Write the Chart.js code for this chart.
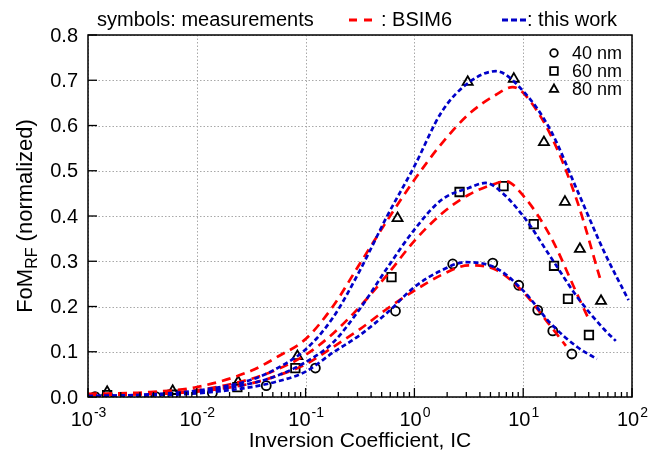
<!DOCTYPE html>
<html>
<head>
<meta charset="utf-8">
<script src="https://cdn.jsdelivr.net/npm/chart.js@4.4.1/dist/chart.umd.min.js"></script>
<style>
  html, body { margin: 0; padding: 0; background: #fff; }
  #wrap { width: 652px; height: 460px; }
</style>
</head>
<body>
<div id="wrap"><canvas id="fomChart" width="652" height="460"></canvas></div>
<script>
// measurements (symbols)
const measX40 = [0.00116, 0.0042, 0.0139, 0.0435, 0.123, 0.67, 2.25, 5.25, 9.1, 13.6, 18.7, 28];
const measY40 = [0.001, 0.001, 0.009, 0.025, 0.064, 0.19, 0.294, 0.296, 0.247, 0.192, 0.146, 0.095];
const measX60 = [0.0015, 0.006, 0.0236, 0.0805, 0.616, 2.6, 6.6, 12.5, 19.2, 25.8, 40.2];
const measY60 = [0.004, 0.005, 0.022, 0.064, 0.265, 0.453, 0.466, 0.382, 0.29, 0.217, 0.137];
const measX80 = [0.0015, 0.006, 0.024, 0.084, 0.70, 3.09, 8.2, 15.5, 24.2, 33.2, 51.9];
const measY80 = [0.011, 0.013, 0.033, 0.09, 0.395, 0.696, 0.703, 0.563, 0.431, 0.327, 0.212];

// BSIM6 (red)
const bsimX40 = [0.001, 0.00316, 0.01, 0.0316, 0.0562, 0.1, 0.178, 0.316, 0.562, 1, 1.78, 3.16, 5.62, 10, 17.8, 24.7];
const bsimY40 = [0.005, 0.006, 0.012, 0.03, 0.048, 0.072, 0.11, 0.15, 0.195, 0.235, 0.27, 0.291, 0.281, 0.232, 0.157, 0.113];
const bsimX60 = [0.001, 0.00316, 0.01, 0.0316, 0.0562, 0.1, 0.178, 0.316, 0.562, 1, 1.78, 3.16, 5.62, 6.9, 10, 17.8, 31.6, 40];
const bsimY60 = [0.005, 0.007, 0.015, 0.04, 0.062, 0.093, 0.14, 0.20, 0.27, 0.345, 0.405, 0.447, 0.472, 0.477, 0.445, 0.355, 0.225, 0.172];
const bsimX80 = [0.001, 0.00316, 0.01, 0.0316, 0.0562, 0.1, 0.178, 0.316, 0.562, 1, 1.78, 3.16, 5.62, 8, 10, 17.8, 31.6, 50.7];
const bsimY80 = [0.007, 0.01, 0.022, 0.058, 0.09, 0.128, 0.2, 0.295, 0.39, 0.48, 0.56, 0.625, 0.668, 0.685, 0.672, 0.58, 0.43, 0.263];

// this work (blue)
const workX40 = [0.001, 0.00316, 0.01, 0.0316, 0.0562, 0.1, 0.178, 0.316, 0.562, 1, 1.78, 2.95, 5.62, 10, 17.8, 31.6, 47.6];
const workY40 = [0.001, 0.003, 0.008, 0.022, 0.035, 0.056, 0.098, 0.137, 0.186, 0.243, 0.28, 0.298, 0.285, 0.235, 0.163, 0.11, 0.084];
const workX60 = [0.001, 0.00316, 0.01, 0.0316, 0.0562, 0.1, 0.178, 0.316, 0.562, 1, 1.78, 3.16, 4.5, 5.62, 10, 17.8, 31.6, 56.2, 71];
const workY60 = [0.002, 0.004, 0.011, 0.03, 0.048, 0.077, 0.12, 0.195, 0.285, 0.37, 0.436, 0.462, 0.473, 0.463, 0.40, 0.31, 0.22, 0.148, 0.124];
const workX80 = [0.001, 0.00316, 0.01, 0.0316, 0.0562, 0.1, 0.178, 0.316, 0.562, 1, 1.78, 3.16, 5.62, 10, 17.8, 31.6, 56.2, 93];
const workY80 = [0.002, 0.005, 0.014, 0.038, 0.065, 0.105, 0.175, 0.28, 0.40, 0.51, 0.63, 0.695, 0.72, 0.676, 0.59, 0.455, 0.318, 0.214];

// axes
const xDecades = [0.001, 0.01, 0.1, 1, 10, 100];
const xExpLabels = ['-3', '-2', '-1', '0', '1', '2'];
const yTicks = [0, 0.1, 0.2, 0.3, 0.4, 0.5, 0.6, 0.7, 0.8];
const sizeLabels = ['40 nm', '60 nm', '80 nm'];

const FONT = '"Liberation Sans", Arial, sans-serif';
const RED = '#ff0000';
const BLUE = '#0000c8';

function pts(xs, ys) {
  return xs.map(function (x, i) { return { x: x, y: ys[i] }; });
}

function curve(xs, ys, color, dash, order) {
  return {
    type: 'line',
    data: pts(xs, ys),
    borderColor: color,
    borderWidth: 2.7,
    borderDash: dash,
    pointRadius: 0,
    fill: false,
    cubicInterpolationMode: 'monotone',
    order: order
  };
}

function marks(xs, ys, style, r) {
  return {
    type: 'scatter',
    data: pts(xs, ys),
    pointStyle: style,
    pointRadius: r,
    pointBorderColor: '#000',
    pointBackgroundColor: 'rgba(0,0,0,0)',
    pointBorderWidth: 1.8,
    showLine: false,
    order: 5
  };
}

function drawSymbol(ctx, style, x, y, r) {
  ctx.beginPath();
  if (style === 'circle') {
    ctx.arc(x, y, r, 0, Math.PI * 2);
  } else if (style === 'rect') {
    ctx.rect(x - r, y - r, 2 * r, 2 * r);
  } else {
    ctx.moveTo(x, y - r * 1.2);
    ctx.lineTo(x + r * 1.1, y + r * 0.75);
    ctx.lineTo(x - r * 1.1, y + r * 0.75);
    ctx.closePath();
  }
  ctx.stroke();
}

const framePlugin = {
  id: 'frame',
  beforeDatasetsDraw: function (chart) {
    const ctx = chart.ctx, a = chart.chartArea;
    const xs = chart.scales.x, ys = chart.scales.y;
    ctx.save();
    ctx.strokeStyle = '#a8a8a8';
    ctx.lineWidth = 1;
    ctx.setLineDash([1.5, 2]);
    xDecades.forEach(function (d) {
      const px = Math.round(xs.getPixelForValue(d)) + 0.5;
      ctx.beginPath(); ctx.moveTo(px, a.top); ctx.lineTo(px, a.bottom); ctx.stroke();
    });
    yTicks.forEach(function (v) {
      const py = Math.round(ys.getPixelForValue(v)) + 0.5;
      ctx.beginPath(); ctx.moveTo(a.left, py); ctx.lineTo(a.right, py); ctx.stroke();
    });
    ctx.restore();
  },
  afterDraw: function (chart) {
    const ctx = chart.ctx, a = chart.chartArea;
    const xs = chart.scales.x, ys = chart.scales.y;
    ctx.save();
    ctx.setLineDash([]);
    ctx.strokeStyle = '#000';
    ctx.lineWidth = 1.5;
    ctx.strokeRect(a.left, a.top, a.right - a.left, a.bottom - a.top);

    // ticks, inward
    ctx.lineWidth = 1.3;
    yTicks.forEach(function (v) {
      const py = ys.getPixelForValue(v);
      ctx.beginPath(); ctx.moveTo(a.left, py); ctx.lineTo(a.left + 9, py); ctx.stroke();
    });
    xDecades.forEach(function (d, i) {
      const px = xs.getPixelForValue(d);
      ctx.beginPath(); ctx.moveTo(px, a.bottom); ctx.lineTo(px, a.bottom - 9); ctx.stroke();
      if (i < xDecades.length - 1) {
        for (let m = 2; m <= 9; m++) {
          const pm = xs.getPixelForValue(d * m);
          ctx.beginPath(); ctx.moveTo(pm, a.bottom); ctx.lineTo(pm, a.bottom - 5); ctx.stroke();
        }
      }
    });

    // tick labels
    ctx.fillStyle = '#000';
    ctx.font = '20px ' + FONT;
    ctx.textAlign = 'right';
    ctx.textBaseline = 'middle';
    yTicks.forEach(function (v) {
      ctx.fillText(v.toFixed(1), a.left - 10, ys.getPixelForValue(v) + 1);
    });
    ctx.textAlign = 'left';
    ctx.textBaseline = 'alphabetic';
    xDecades.forEach(function (d, i) {
      ctx.font = '20px ' + FONT;
      const w1 = ctx.measureText('10').width;
      ctx.font = '14px ' + FONT;
      const w2 = ctx.measureText(xExpLabels[i]).width;
      const x0 = xs.getPixelForValue(d) - (w1 + w2) / 2;
      ctx.font = '20px ' + FONT;
      ctx.fillText('10', x0, a.bottom + 29);
      ctx.font = '14px ' + FONT;
      ctx.fillText(xExpLabels[i], x0 + w1 + 1, a.bottom + 20);
    });

    // axis titles
    ctx.font = '21px ' + FONT;
    ctx.textAlign = 'center';
    ctx.fillText('Inversion Coefficient, IC', (a.left + a.right) / 2, 447);

    ctx.save();
    ctx.translate(32, (a.top + a.bottom) / 2);
    ctx.rotate(-Math.PI / 2);
    ctx.textAlign = 'left';
    ctx.font = '22px ' + FONT;
    const wA = ctx.measureText('FoM').width;
    const wC = ctx.measureText(' (normalized)').width;
    ctx.font = '16px ' + FONT;
    const wB = ctx.measureText('RF').width;
    let sx = -(wA + wB + wC) / 2;
    ctx.font = '22px ' + FONT;
    ctx.fillText('FoM', sx, 0);
    ctx.font = '16px ' + FONT;
    ctx.fillText('RF', sx + wA, 5);
    ctx.font = '22px ' + FONT;
    ctx.fillText(' (normalized)', sx + wA + wB, 0);
    ctx.restore();

    // top legend
    ctx.font = '20px ' + FONT;
    ctx.textAlign = 'left';
    ctx.fillText('symbols: measurements', 97, 26);
    ctx.fillText(': BSIM6', 381, 26);
    ctx.fillText(': this work', 527, 26);
    ctx.lineWidth = 3;
    ctx.strokeStyle = RED;
    ctx.beginPath(); ctx.moveTo(349, 20); ctx.lineTo(357, 20); ctx.moveTo(364, 20); ctx.lineTo(372, 20); ctx.stroke();
    ctx.strokeStyle = BLUE;
    ctx.beginPath();
    ctx.moveTo(502, 20); ctx.lineTo(508, 20);
    ctx.moveTo(511, 20); ctx.lineTo(517, 20);
    ctx.moveTo(520, 20); ctx.lineTo(526, 20);
    ctx.stroke();

    // size legend
    const styles = ['circle', 'rect', 'triangle'];
    ctx.strokeStyle = '#000';
    ctx.lineWidth = 1.8;
    ctx.font = '18px ' + FONT;
    ctx.textBaseline = 'middle';
    sizeLabels.forEach(function (lab, i) {
      const y = 53 + i * 18;
      drawSymbol(ctx, styles[i], 554, y, 3.8);
      ctx.fillText(lab, 572, y + 1);
    });
    ctx.restore();
  }
};

const fomChart = new Chart(document.getElementById('fomChart'), {
  type: 'line',
  data: {
    datasets: [
      curve(workX40, workY40, BLUE, [5, 3], 0),
      curve(workX60, workY60, BLUE, [5, 3], 0),
      curve(workX80, workY80, BLUE, [5, 3], 0),
      curve(bsimX40, bsimY40, RED, [9, 6], 1),
      curve(bsimX60, bsimY60, RED, [9, 6], 1),
      curve(bsimX80, bsimY80, RED, [9, 6], 1),
      marks(measX40, measY40, 'circle', 4.5),
      marks(measX60, measY60, 'rect', 6),
      marks(measX80, measY80, 'triangle', 5.8)
    ]
  },
  options: {
    responsive: false,
    animation: false,
    layout: { padding: { left: 88, right: 20, top: 35, bottom: 63 } },
    plugins: {
      legend: { display: false },
      tooltip: { enabled: false }
    },
    scales: {
      x: { type: 'logarithmic', min: 0.001, max: 100, display: false },
      y: { type: 'linear', min: 0, max: 0.8, display: false }
    }
  },
  plugins: [framePlugin]
});
</script>
</body>
</html>
